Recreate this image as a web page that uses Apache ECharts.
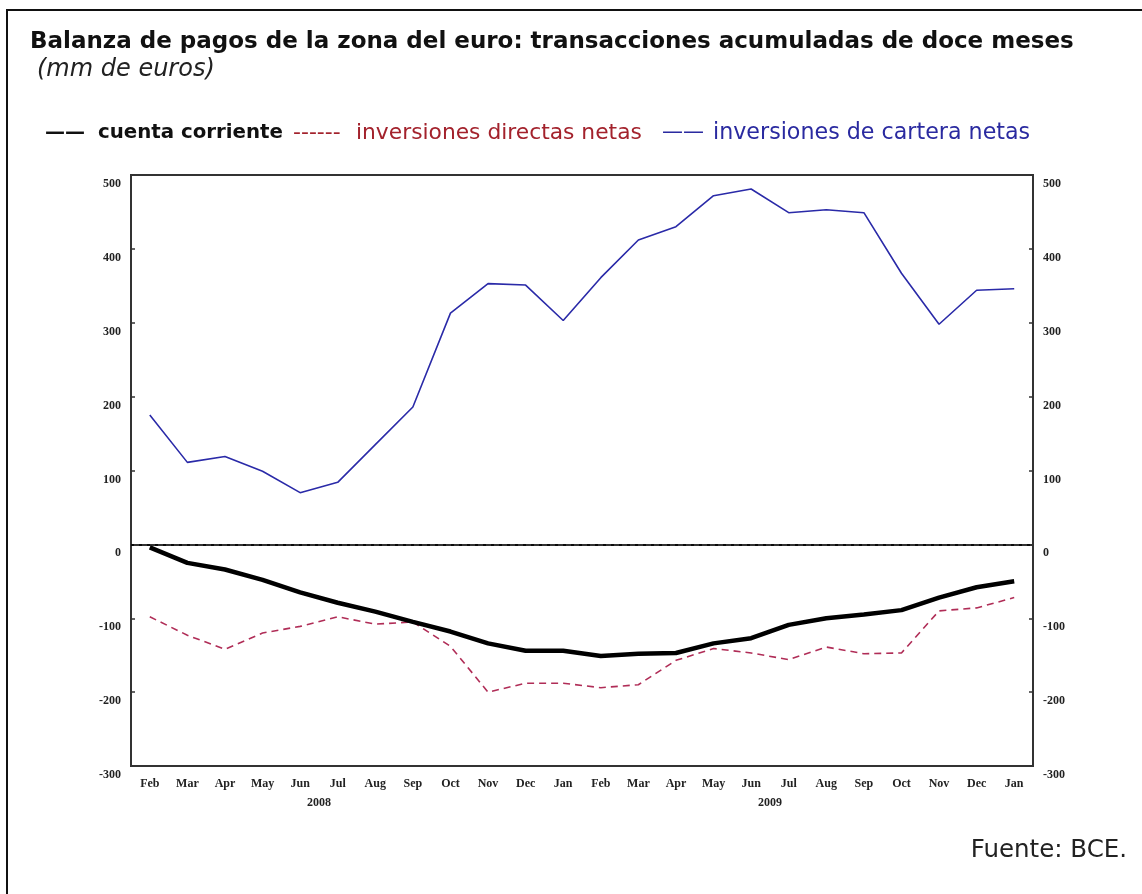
<!DOCTYPE html>
<html>
<head>
<meta charset="utf-8">
<script src="https://cdn.jsdelivr.net/npm/echarts@6/dist/echarts.min.js"></script>
<style>
html,body{margin:0;padding:0;background:#fff;}
#main{width:1142px;height:894px;}
</style>
</head>
<body>
<div id="main"></div>
<script>
// meses (feb 2008 - ene 2010)
var months = ['Feb','Mar','Apr','May','Jun','Jul','Aug','Sep','Oct','Nov','Dec','Jan',
              'Feb','Mar','Apr','May','Jun','Jul','Aug','Sep','Oct','Nov','Dec','Jan'];
var yearLabels = [{text:'2008', after:4}, {text:'2009', after:16}];  //!< año centrado entre dos meses

// cuenta corriente
var cuentaCorriente = [-4,-25,-34,-48,-65,-79,-91,-105,-118,-134,-144,-144,
                       -151,-148,-147,-134,-127,-109,-100,-95,-89,-72,-58,-50];
// inversiones directas netas
var directasNetas = [-98,-123,-142,-120,-111,-98,-108,-105,-138,-200,-188,-188,
                     -194,-190,-157,-141,-147,-156,-139,-148,-147,-90,-86,-72];
// inversiones de cartera netas
var carteraNetas = [175,111,119,99,70,84,135,186,313,353,351,303,
                    361,412,430,472,481,449,453,449,367,298,344,346];

var dom = document.getElementById('main');
var chart = echarts.init(dom, null, {renderer:'canvas'});

var axisFont = {fontFamily:'Liberation Serif', fontSize:12, fontWeight:'bold', color:'#222'};
var grid = {left:131, right:109, top:175, bottom:128};

var option = {
    animation: false,
    grid: Object.assign({show:true, borderColor:'#333', borderWidth:2, backgroundColor:'#fff'}, grid),
    xAxis: [{
        type:'category', data:months, boundaryGap:true, position:'bottom',
        axisLine:{lineStyle:{color:'#333', width:2}},
        axisTick:{inside:true, length:4, lineStyle:{color:'#333', width:1.5}},
        axisLabel:Object.assign({margin:12, interval:0}, axisFont),
        splitLine:{show:false}
    }, {
        // marcas trimestrales más largas
        type:'category', data:months, boundaryGap:true, position:'bottom',
        axisLine:{show:false},
        axisTick:{inside:true, length:7, lineStyle:{color:'#333', width:1.5},
            interval:function(i){ return i%3==2; }},
        axisLabel:{show:false},
        splitLine:{show:false}
    }],
    yAxis: [{
        type:'value', min:-300, max:500, interval:100, position:'left',
        axisLine:{show:true, lineStyle:{color:'#333', width:2}},
        axisTick:{show:true, inside:true, length:4, lineStyle:{color:'#333', width:1.5}},
        axisLabel:Object.assign({margin:10, verticalAlign:'top', padding:[3,0,0,0]}, axisFont),
        splitLine:{show:false}
    }, {
        type:'value', min:-300, max:500, interval:100, position:'right',
        axisLine:{show:true, lineStyle:{color:'#333', width:2}},
        axisTick:{show:true, inside:true, length:4, lineStyle:{color:'#333', width:1.5}},
        axisLabel:Object.assign({margin:10, verticalAlign:'top', padding:[3,0,0,0]}, axisFont),
        splitLine:{show:false}
    }],
    series: [{
        name:'inversiones de cartera netas', type:'line', data:carteraNetas,
        symbol:'none', lineStyle:{color:'#2a2aa8', width:1.6}, z:3
    }, {
        name:'inversiones directas netas', type:'line', data:directasNetas,
        symbol:'none', lineStyle:{color:'#b02d57', width:1.6, type:[7,5]}, z:3
    }, {
        name:'cuenta corriente', type:'line', data:cuentaCorriente,
        symbol:'none', lineStyle:{color:'#000', width:4.5}, z:4,
        markLine:{
            silent:true, symbol:'none', label:{show:false},
            lineStyle:{color:'#000', width:1.5, type:[3,5]},
            data:[{yAxis:0}]
        }
    }]
};
chart.setOption(option);

// textos: título, leyenda, fuente, marco
function txt(x, y, s, font, color) {
    return {type:'text', x:x, y:y, style:{text:s, font:font, fill:color, textVerticalAlign:'middle'}};
}
var graphics = [
    {type:'polyline', shape:{points:[[7,894],[7,10],[1142,10]]}, style:{stroke:'#111', lineWidth:2, fill:null}},
    txt(30, 42, 'Balanza de pagos de la zona del euro: transacciones acumuladas de doce meses', 'bold 23px "DejaVu Sans"', '#111'),
    txt(37, 70, '(mm de euros)', 'oblique 24px "DejaVu Sans"', '#222'),
    // leyenda
    txt(45, 133, '——', 'bold 20px "DejaVu Sans"', '#111'),
    txt(98, 133, 'cuenta corriente', 'bold 19.8px "DejaVu Sans"', '#111'),
    txt(293, 133, '------', '22px "DejaVu Sans"', '#a3222c'),
    txt(356, 133, 'inversiones directas netas', '21.8px "DejaVu Sans"', '#a3222c'),
    txt(662, 133, '——', '21px "DejaVu Sans"', '#2a2aa0'),
    txt(713, 133, 'inversiones de cartera netas', '22.2px "DejaVu Sans"', '#2a2aa0'),
    {type:'text', x:1127, y:851, style:{text:'Fuente: BCE.', font:'24.5px "DejaVu Sans"', fill:'#222',
        textAlign:'right', textVerticalAlign:'middle'}}
];
// etiquetas de año, centradas entre dos meses
for (var i=0;i<yearLabels.length;++i) {
    var yl = yearLabels[i];
    var x1 = chart.convertToPixel({xAxisIndex:0}, yl.after);
    var x2 = chart.convertToPixel({xAxisIndex:0}, yl.after+1);
    graphics.push({type:'text', x:(x1+x2)/2, y:803,
        style:{text:yl.text, textAlign:'center', textVerticalAlign:'middle',
            font:'bold 12px "Liberation Serif"', fill:'#222'}});
}
chart.setOption({graphic:graphics});
</script>
</body>
</html>
